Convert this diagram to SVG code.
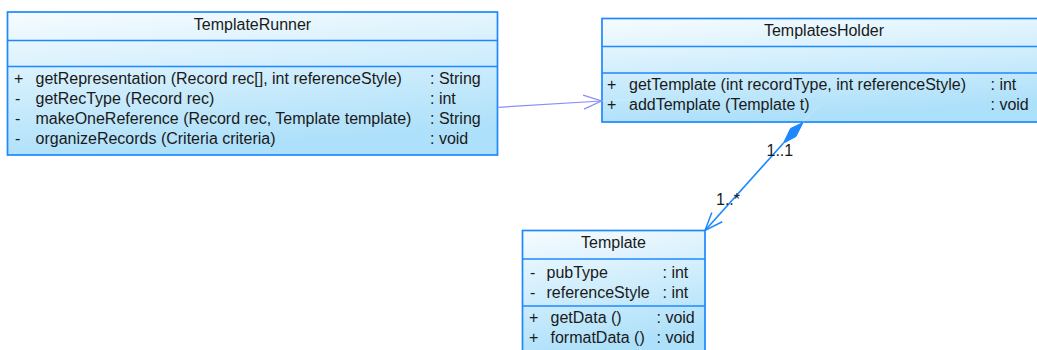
<svg xmlns="http://www.w3.org/2000/svg" width="1037" height="350" viewBox="0 0 1037 350">
  <defs>
    <linearGradient id="classFill" x1="0" y1="0" x2="0.25" y2="1">
      <stop offset="0" stop-color="#f6fcff"/>
      <stop offset="1" stop-color="#ade0fa"/>
    </linearGradient>
    <marker id="openArrowDep" viewBox="0 0 20 16" refX="19" refY="8" markerWidth="20" markerHeight="16" markerUnits="userSpaceOnUse" orient="auto">
      <path d="M1,1 L19,8 L1,15" fill="none" stroke="#8a8cff" stroke-width="1.3"/>
    </marker>
    <marker id="openArrowComp" viewBox="0 0 20 16" refX="19" refY="8" markerWidth="20" markerHeight="16" markerUnits="userSpaceOnUse" orient="auto">
      <path d="M1,1 L19,8 L1,15" fill="none" stroke="#1e88ff" stroke-width="1.5"/>
    </marker>
  </defs>
  <style>
    .box { fill: url(#classFill); stroke: #1e88ff; stroke-width: 1.7; }
    .sep { stroke: #1e88ff; stroke-width: 1.7; }
    text { font-family: "Liberation Sans", Arial, sans-serif; font-size: 16px; fill: #1a1a1a; }
    .title { text-anchor: middle; }
    .dep { stroke: #8a8cff; stroke-width: 1.2; fill: none; }
    .comp { stroke: #1e88ff; stroke-width: 1.6; fill: none; }
    .ghost { stroke: #ffffff; stroke-width: 1; opacity: 0.25; fill: none; }
  </style>

  <!-- TemplateRunner -->
  <g id="TemplateRunner">
    <rect class="box" x="7.5" y="12" width="490" height="143"/>
    <line class="sep" x1="7.5" y1="40.5" x2="497.5" y2="40.5"/>
    <line class="sep" x1="7.5" y1="66.5" x2="497.5" y2="66.5"/>
    <text class="title" x="252.5" y="29.5">TemplateRunner</text>
    <text x="14" y="84">+</text>
    <text x="35.5" y="84">getRepresentation (Record rec[], int referenceStyle)</text>
    <text x="430" y="84">: String</text>
    <text x="15" y="104">-</text>
    <text x="35.5" y="104">getRecType (Record rec)</text>
    <text x="430" y="104">: int</text>
    <text x="15" y="123.5">-</text>
    <text x="35.5" y="123.5">makeOneReference (Record rec, Template template)</text>
    <text x="430" y="123.5">: String</text>
    <text x="15" y="143.5">-</text>
    <text x="35.5" y="143.5">organizeRecords (Criteria criteria)</text>
    <text x="430" y="143.5">: void</text>
  </g>

  <!-- TemplatesHolder (runs past the right edge) -->
  <g id="TemplatesHolder">
    <rect class="box" x="602" y="18.5" width="444" height="103.5"/>
    <line class="sep" x1="602" y1="46.5" x2="1046" y2="46.5"/>
    <line class="sep" x1="602" y1="73" x2="1046" y2="73"/>
    <text class="title" x="824" y="35.5">TemplatesHolder</text>
    <text x="607" y="90">+</text>
    <text x="629" y="90">getTemplate (int recordType, int referenceStyle)</text>
    <text x="990.5" y="90">: int</text>
    <text x="607" y="110">+</text>
    <text x="629" y="110">addTemplate (Template t)</text>
    <text x="990.5" y="110">: void</text>
  </g>

  <!-- Template (runs past the bottom edge) -->
  <g id="Template">
    <rect class="box" x="522.5" y="230.5" width="182.5" height="125"/>
    <line class="sep" x1="522.5" y1="259" x2="705" y2="259"/>
    <line class="sep" x1="522.5" y1="306" x2="705" y2="306"/>
    <text class="title" x="613.5" y="248">Template</text>
    <text x="530" y="277.5">-</text>
    <text x="546.5" y="277.5">pubType</text>
    <text x="662.5" y="277.5">: int</text>
    <text x="530" y="297.5">-</text>
    <text x="546.5" y="297.5">referenceStyle</text>
    <text x="662.5" y="297.5">: int</text>
    <text x="529" y="322.5">+</text>
    <text x="550.5" y="322.5">getData ()</text>
    <text x="656.5" y="322.5">: void</text>
    <text x="529" y="342.5">+</text>
    <text x="550.5" y="342.5">formatData ()</text>
    <text x="656.5" y="342.5">: void</text>
  </g>

  <!-- Connectors -->
  <g id="connectors">
    <!-- faint traces of the lines under the class fills -->
    <line class="ghost" x1="602" y1="101" x2="630" y2="99.5"/>
    <line class="ghost" x1="803" y1="122" x2="818" y2="106"/>
    <!-- dependency: TemplateRunner uses TemplatesHolder -->
    <line class="dep" x1="498.5" y1="107.3" x2="601.5" y2="101" marker-end="url(#openArrowDep)"/>
    <!-- composition: TemplatesHolder owns Templates -->
    <path d="M803,122.5 L790.5,128.5 L783.3,143.3 L796,136.5 Z" fill="#1e88ff" stroke="#1e88ff" stroke-width="1"/>
    <line class="comp" x1="783.3" y1="143.3" x2="705" y2="230.5" marker-end="url(#openArrowComp)"/>
    <text x="766.5" y="155.5">1..1</text>
    <text x="716" y="205">1..*</text>
  </g>
</svg>
